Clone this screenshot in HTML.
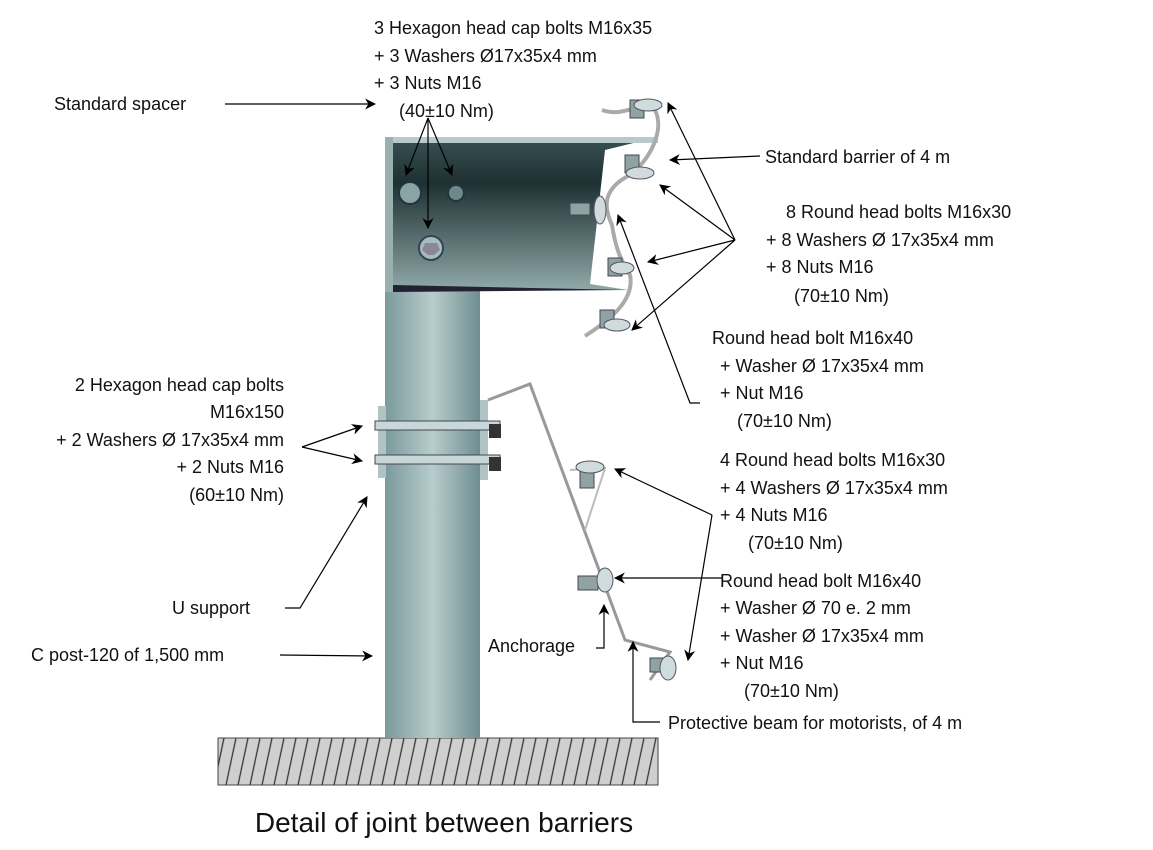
<!DOCTYPE html>
<html><head><meta charset="utf-8"><style>
body{margin:0;background:#fff;}
svg{display:block;}
text{font-family:"Liberation Sans",sans-serif;font-size:18px;fill:#111;}
</style></head><body>
<svg width="1153" height="850" viewBox="0 0 1153 850">
<defs>
<marker id="a" viewBox="0 0 10 10" refX="9" refY="5" markerWidth="11" markerHeight="11" markerUnits="userSpaceOnUse" orient="auto-start-reverse"><path d="M0,0 L10,5 L0,10 L3,5 z" fill="#000"/></marker>
<linearGradient id="pg" x1="0" x2="1"><stop offset="0" stop-color="#7a9a9c"/><stop offset=".5" stop-color="#b8cccc"/><stop offset="1" stop-color="#6f8e90"/></linearGradient>
<linearGradient id="bg" x1="0" y1="0" x2="0" y2="1"><stop offset="0" stop-color="#3a5254"/><stop offset=".3" stop-color="#1e3032"/><stop offset="1" stop-color="#8fa8a8"/></linearGradient>
<pattern id="h" width="12" height="47" patternUnits="userSpaceOnUse" patternTransform="translate(218,738) skewX(-12)"><rect x="-2" width="16" height="47" fill="#cfcfcf"/><line x1="6" y1="0" x2="6" y2="47" stroke="#333" stroke-width="1.3"/></pattern>
</defs>
<!-- ground -->
<rect x="218" y="738" width="440" height="47" fill="url(#h)" stroke="#444"/>
<!-- post -->
<rect x="385" y="280" width="95" height="458" fill="url(#pg)"/>
<!-- bracket -->
<polygon points="385,137 658,137 605,150 590,284 628,290 393,290 385,290" fill="url(#bg)"/>
<rect x="385" y="137" width="273" height="6" fill="#b9c9c9"/>
<polygon points="393,285 628,290 393,292" fill="#223"/>
<rect x="385" y="137" width="8" height="155" fill="#9ab0b0"/>
<circle cx="410" cy="193" r="11" fill="#8aa3a3" stroke="#234" stroke-width="2"/>
<circle cx="456" cy="193" r="8" fill="#6f8888" stroke="#234" stroke-width="2"/>
<circle cx="431" cy="248" r="12" fill="#a8bcbc" stroke="#345" stroke-width="2"/>
<polygon points="425,243 437,243 440,250 434,255 428,255 422,250" fill="#889" />
<!-- U support bolts -->
<rect x="378" y="406" width="8" height="72" fill="#b0c4c4"/>
<rect x="480" y="400" width="8" height="80" fill="#b0c4c4"/>
<rect x="375" y="421" width="125" height="9" fill="#c8d8d8" stroke="#445"/>
<rect x="375" y="455" width="125" height="9" fill="#c8d8d8" stroke="#445"/>
<rect x="489" y="424" width="12" height="14" fill="#333"/><rect x="489" y="457" width="12" height="14" fill="#333"/>
<!-- beams -->
<path d="M602,110 C625,118 640,100 655,110 C665,130 650,160 630,175 C600,190 605,210 612,225 C615,245 620,260 630,275 C635,300 610,320 585,336" fill="none" stroke="#aaa" stroke-width="4"/>
<path d="M488,400 L530,384 L625,640 L670,652 L650,680" fill="none" stroke="#999" stroke-width="3"/>
<path d="M570,470 L605,468 L585,530" fill="none" stroke="#bbb" stroke-width="2"/>
<g fill="#8fa3a3" stroke="#445">
<rect x="630" y="100" width="14" height="18"/><rect x="625" y="155" width="14" height="18"/><rect x="570" y="203" width="20" height="12"/><rect x="608" y="258" width="14" height="18"/><rect x="600" y="310" width="14" height="18"/>
<rect x="580" y="470" width="14" height="18"/><rect x="578" y="576" width="20" height="14"/><rect x="650" y="658" width="16" height="14"/>
</g>
<g fill="#d0dcdc" stroke="#556"><ellipse cx="648" cy="105" rx="14" ry="6"/><ellipse cx="640" cy="173" rx="14" ry="6"/><ellipse cx="600" cy="210" rx="6" ry="14"/><ellipse cx="622" cy="268" rx="12" ry="6"/><ellipse cx="617" cy="325" rx="13" ry="6"/><ellipse cx="590" cy="467" rx="14" ry="6"/><ellipse cx="605" cy="580" rx="8" ry="12"/><ellipse cx="668" cy="668" rx="8" ry="12"/></g>
<!-- connectors -->
<g stroke="#000" stroke-width="1.2" fill="none">
<line x1="225" y1="104" x2="375" y2="104" marker-end="url(#a)"/>
<line x1="428" y1="118" x2="406" y2="175" marker-end="url(#a)"/>
<line x1="428" y1="118" x2="452" y2="175" marker-end="url(#a)"/>
<line x1="428" y1="118" x2="428" y2="228" marker-end="url(#a)"/>
<line x1="760" y1="156" x2="670" y2="160" marker-end="url(#a)"/>
<line x1="735" y1="240" x2="668" y2="103" marker-end="url(#a)"/>
<line x1="735" y1="240" x2="660" y2="185" marker-end="url(#a)"/>
<line x1="735" y1="240" x2="648" y2="262" marker-end="url(#a)"/>
<line x1="735" y1="240" x2="632" y2="330" marker-end="url(#a)"/>
<polyline points="700,403 690,403 618,215" marker-end="url(#a)"/>
<line x1="302" y1="447" x2="362" y2="426" marker-end="url(#a)"/>
<line x1="302" y1="447" x2="362" y2="461" marker-end="url(#a)"/>
<polyline points="285,608 300,608 367,497" marker-end="url(#a)"/>
<line x1="280" y1="655" x2="372" y2="656" marker-end="url(#a)"/>
<line x1="712" y1="515" x2="615" y2="469" marker-end="url(#a)"/>
<line x1="712" y1="515" x2="688" y2="660" marker-end="url(#a)"/>
<line x1="722" y1="578" x2="615" y2="578" marker-end="url(#a)"/>
<polyline points="596,648 604,648 604,605" marker-end="url(#a)"/>
<polyline points="660,722 633,722 633,642" marker-end="url(#a)"/>
</g>
<!-- labels -->
<text x="374" y="34">3 Hexagon head cap bolts M16x35</text>
<text x="374" y="62">+ 3 Washers Ø17x35x4 mm</text>
<text x="374" y="89">+ 3 Nuts M16</text>
<text x="399" y="117">(40±10 Nm)</text>
<text x="54" y="110">Standard spacer</text>
<text x="765" y="163">Standard barrier of 4 m</text>
<text x="786" y="218">8 Round head bolts M16x30</text>
<text x="766" y="246">+ 8 Washers Ø 17x35x4 mm</text>
<text x="766" y="273">+ 8 Nuts M16</text>
<text x="794" y="302">(70±10 Nm)</text>
<text x="712" y="344">Round head bolt M16x40</text>
<text x="720" y="372">+ Washer  Ø 17x35x4 mm</text>
<text x="720" y="399">+ Nut  M16</text>
<text x="737" y="427">(70±10 Nm)</text>
<text x="284" y="391" text-anchor="end">2 Hexagon head cap bolts</text>
<text x="284" y="418" text-anchor="end">M16x150</text>
<text x="284" y="446" text-anchor="end">+ 2 Washers Ø 17x35x4 mm</text>
<text x="284" y="473" text-anchor="end">+ 2 Nuts M16</text>
<text x="284" y="501" text-anchor="end">(60±10 Nm)</text>
<text x="720" y="466">4 Round head bolts M16x30</text>
<text x="720" y="494">+ 4 Washers Ø 17x35x4 mm</text>
<text x="720" y="521">+ 4 Nuts M16</text>
<text x="748" y="549">(70±10 Nm)</text>
<text x="720" y="587">Round head bolt M16x40</text>
<text x="720" y="614">+ Washer Ø 70 e. 2 mm</text>
<text x="720" y="642">+ Washer Ø 17x35x4 mm</text>
<text x="720" y="669">+ Nut M16</text>
<text x="744" y="697">(70±10 Nm)</text>
<text x="172" y="614">U support</text>
<text x="31" y="661">C post-120 of 1,500 mm</text>
<text x="488" y="652">Anchorage</text>
<text x="668" y="729">Protective beam for motorists, of 4 m</text>
<text x="444" y="832" text-anchor="middle" style="font-size:28px">Detail of joint between barriers</text>
</svg>
</body></html>
